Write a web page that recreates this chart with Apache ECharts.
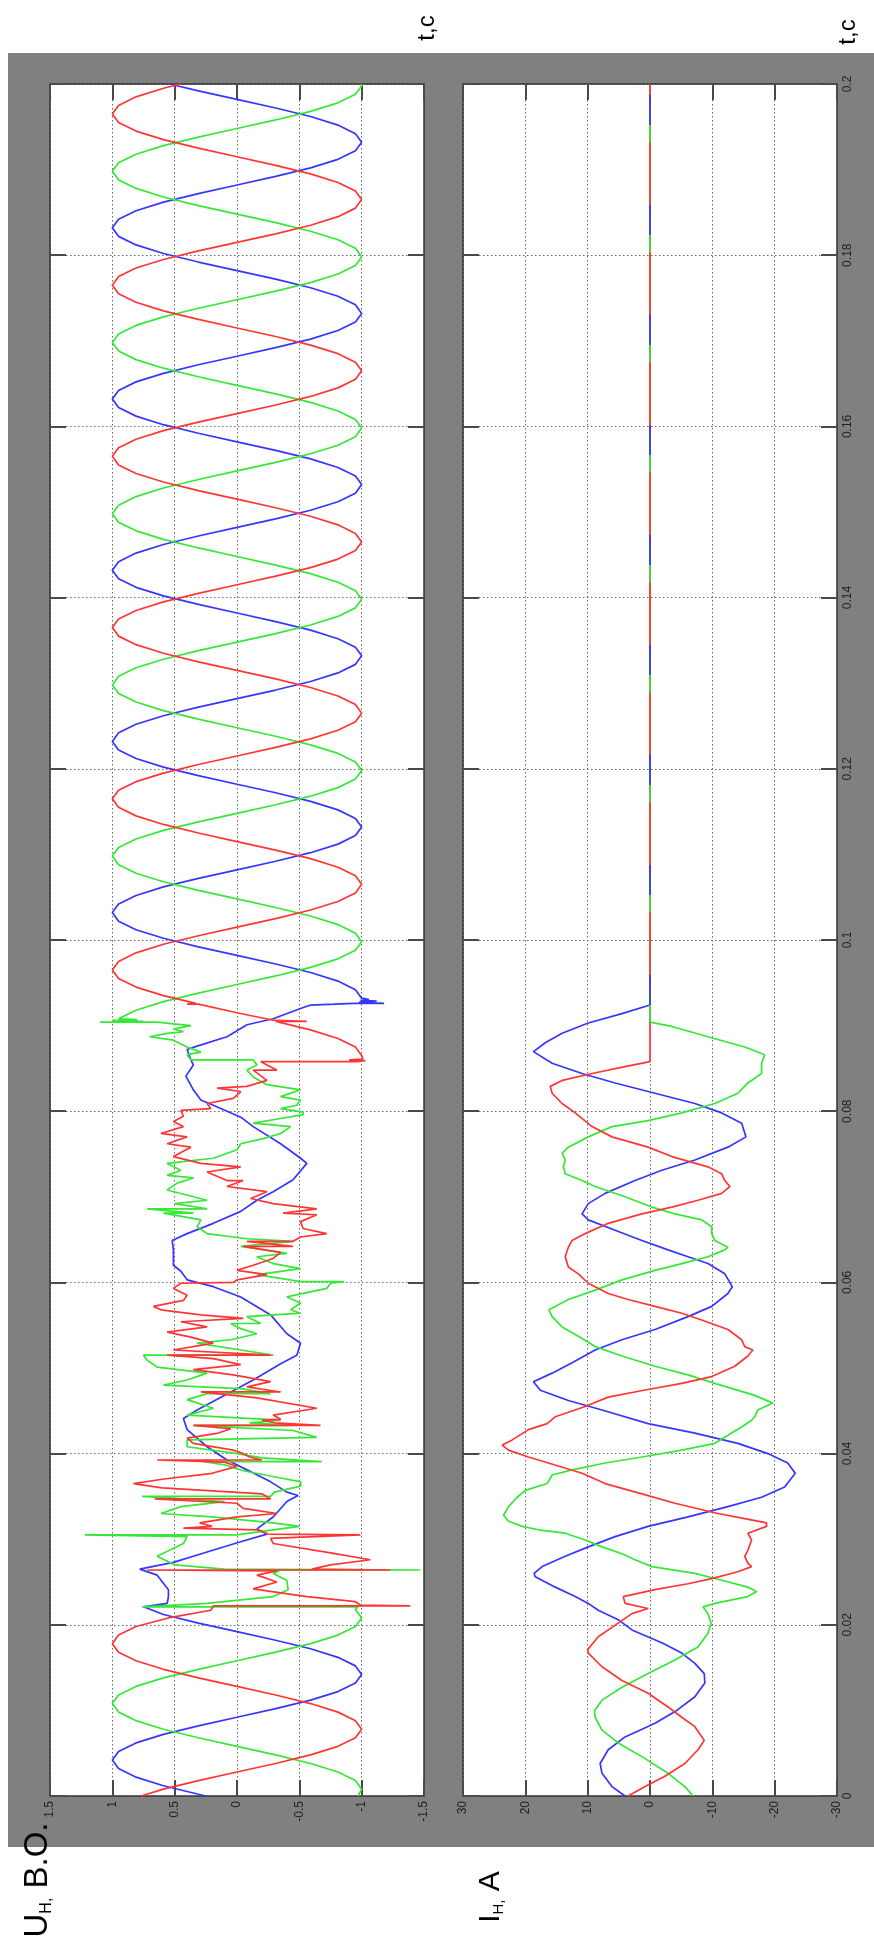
<!DOCTYPE html>
<html>
<head>
<meta charset="utf-8">
<script src="https://cdn.jsdelivr.net/npm/echarts@6/dist/echarts.min.js"></script>
<style>
html,body{margin:0;padding:0;background:#fff;}
#chart{width:874px;height:1955px;}
</style>
</head>
<body>
<div id="chart"></div>
<script>
// time in ms
let tLabels=['0','0.02','0.04','0.06','0.08','0.1','0.12','0.14','0.16','0.18','0.2']
let uLabels=['-1.5','-1','-0.5','0','0.5','1','1.5']
let iLabels=['-30','-20','-10','0','10','20','30']

// U, red phase
let uRedPre=[[0,0.77],[0.8,0.59],[1.8,0.31],[2.8,0],[3.8,-0.31],[4.8,-0.59],[5.8,-0.81],[6.8,-0.95],[7.8,-1],[8.8,-0.95],[9.8,-0.81],[10.8,-0.59],[11.8,-0.31],[12.8,0],[13.8,0.31],[14.8,0.59],[15.8,0.81],[16.8,0.95],[17.8,1],[18.8,0.95],[19.8,0.81],[20.8,0.55],[21.7,0.21]]
let uRedFault=[[22.2,0.19],[22.2,-1.39],[22.3,-0.99],[22.7,-0.95],[23.3,-0.56],[24.2,-0.13],[25.0,-0.32],[25.8,-0.16],[26.3,-0.32],[26.4,0.72],[26.4,-1.23],[26.5,-0.6],[27.0,-0.75],[27.6,-1.07],[28.4,-0.75],[29.5,-0.29],[30.1,-0.27],[30.5,-0.99],[30.6,-0.25],[31.1,-0.16],[31.3,0.43],[31.5,0.2],[31.9,0.3],[32.6,0.0],[33.0,-0.32],[33.6,-0.05],[34.2,0.0],[34.7,0.66],[34.7,-0.27],[35.3,-0.2],[36.0,0.6],[36.5,0.83],[37.0,0.6],[37.7,0.2],[38.5,0.0],[39.0,0.1],[39.25,0.64],[39.25,-0.2],[39.6,-0.1],[40.0,-0.05],[40.4,0.03],[41.2,0.35],[41.8,0.40],[42.4,0.15],[42.9,0.05],[43.3,0.35],[43.3,-0.67],[43.6,-0.3],[43.9,-0.2],[44.0,-0.35],[44.5,-0.29],[45.3,-0.64],[46.5,-0.16],[47.2,0.29],[47.2,-0.35],[47.8,-0.08],[48.4,-0.27],[49.2,0.03],[49.8,0.35],[50.4,-0.03],[51.1,0.19],[51.5,0.56],[51.5,-0.27],[52.1,0.51],[52.9,0.19],[53.6,0.37],[54.2,0.56],[54.8,0.24],[55.4,0.45],[55.8,-0.05],[56.2,0.29],[56.8,0.61],[57.2,0.67],[57.9,0.43],[58.5,0.40],[59.3,0.51],[59.9,0.45],[60.0,0.03],[60.3,0.0],[60.9,-0.24],[61.4,0.0],[62.0,-0.13],[62.8,-0.29],[63.5,-0.35],[64.2,-0.05],[64.2,-0.45],[64.8,-0.08],[64.8,-0.45],[65.3,-0.51],[65.7,-0.72],[66.3,-0.53],[67.1,-0.51],[67.9,-0.64],[68.1,-0.37],[68.6,-0.64],[69.2,-0.29],[69.8,-0.11],[70.6,-0.24],[71.2,0.08],[71.9,-0.05],[71.9,0.08],[72.9,0.24],[73.5,-0.03],[73.9,0.29],[74.7,0.51],[75.8,0.37],[76.2,0.56],[77.0,0.40],[77.4,0.61],[78.2,0.43],[78.8,0.51],[79.4,0.43],[80.1,0.45],[80.3,0.21],[80.9,0.24],[81.5,0.03],[82.3,-0.03],[82.7,0.16],[82.9,-0.08],[83.6,-0.24],[84.8,-0.13],[84.8,-0.32],[85.4,-0.24],[85.8,-0.19]]
let uRedPost=[[85.8,-0.96],[85.9,-1.03],[86.0,-0.9],[86.1,-1.01],[86.5,-1],[87.5,-0.95],[88.5,-0.81],[89.5,-0.59],[90.5,-0.31],[90.5,-0.56],[90.6,-0.3],[91.5,0],[92.5,0.31],[92.5,0.4],[92.6,0.33],[93.5,0.59],[94.5,0.81],[95.5,0.95],
[96.5,1],[97.5,0.95],[98.5,0.81],[99.5,0.59],[100.5,0.31],[101.5,0],[102.5,-0.31],[103.5,-0.59],[104.5,-0.81],[105.5,-0.95],[106.5,-1],[107.5,-0.95],[108.5,-0.81],[109.5,-0.59],[110.5,-0.31],[111.5,0],[112.5,0.31],[113.5,0.59],[114.5,0.81],[115.5,0.95],
[116.5,1],[117.5,0.95],[118.5,0.81],[119.5,0.59],[120.5,0.31],[121.5,0],[122.5,-0.31],[123.5,-0.59],[124.5,-0.81],[125.5,-0.95],[126.5,-1],[127.5,-0.95],[128.5,-0.81],[129.5,-0.59],[130.5,-0.31],[131.5,0],[132.5,0.31],[133.5,0.59],[134.5,0.81],[135.5,0.95],
[136.5,1],[137.5,0.95],[138.5,0.81],[139.5,0.59],[140.5,0.31],[141.5,0],[142.5,-0.31],[143.5,-0.59],[144.5,-0.81],[145.5,-0.95],[146.5,-1],[147.5,-0.95],[148.5,-0.81],[149.5,-0.59],[150.5,-0.31],[151.5,0],[152.5,0.31],[153.5,0.59],[154.5,0.81],[155.5,0.95],
[156.5,1],[157.5,0.95],[158.5,0.81],[159.5,0.59],[160.5,0.31],[161.5,0],[162.5,-0.31],[163.5,-0.59],[164.5,-0.81],[165.5,-0.95],[166.5,-1],[167.5,-0.95],[168.5,-0.81],[169.5,-0.59],[170.5,-0.31],[171.5,0],[172.5,0.31],[173.5,0.59],[174.5,0.81],[175.5,0.95],
[176.5,1],[177.5,0.95],[178.5,0.81],[179.5,0.59],[180.5,0.31],[181.5,0],[182.5,-0.31],[183.5,-0.59],[184.5,-0.81],[185.5,-0.95],[186.5,-1],[187.5,-0.95],[188.5,-0.81],[189.5,-0.59],[190.5,-0.31],[191.5,0],[192.5,0.31],[193.5,0.59],[194.5,0.81],[195.5,0.95],
[196.5,1],[197.5,0.95],[198.5,0.81],[199.5,0.59],[200,0.45]]

// U, blue phase
let uBluePre=[[0,0.25],[0.2,0.31],[1.2,0.59],[2.2,0.81],[3.2,0.95],[4.2,1],[5.2,0.95],[6.2,0.81],[7.2,0.59],[8.2,0.31],[9.2,0],[10.2,-0.31],[11.2,-0.59],[12.2,-0.81],[13.2,-0.95],[14.2,-1],[15.2,-0.95],[16.2,-0.81],[17.2,-0.59],[18.2,-0.31],[19.2,0],[20.2,0.31],[21.2,0.59],[22.1,0.75]]
let uBlueFault=[[22.5,0.56],[23.3,0.55],[24.1,0.55],[25.8,0.64],[26.5,0.78],[27.3,0.51],[28.5,0.24],[29.7,-0.03],[30.6,-0.24],[31.2,-0.16],[32.6,-0.29],[34.4,-0.40],[35.1,-0.49],[35.5,-0.40],[36.7,-0.27],[38.1,-0.08],[39.25,0.08],[40.8,0.24],[42.8,0.40],[44.1,0.43],[45.1,0.32],[47.2,0.05],[48.6,-0.13],[50.5,-0.35],[51.5,-0.48],[52.9,-0.51],[54.0,-0.40],[56.2,-0.27],[58.3,-0.03],[59.5,0.19],[60.3,0.40],[61.3,0.45],[62.0,0.51],[63.8,0.51],[64.9,0.52],[65.7,0.40],[66.9,0.19],[68.3,-0.03],[69.6,-0.16],[70.6,-0.29],[72.0,-0.45],[73.9,-0.56],[74.5,-0.51],[76.2,-0.35],[78.2,-0.13],[79.3,-0.03],[80.7,0.19],[81.3,0.29],[82.5,0.35],[84.1,0.41],[85.4,0.35],[86.0,0.37],[87.2,0.40],[87.6,0.32],[88.7,0.08],[90.1,-0.08],[90.8,-0.29],[92.0,-0.51],[92.4,-0.59],[92.5,-0.78],[92.6,-0.94]]
let uBluePost=[[92.6,-1.18],[92.75,-0.98],[92.85,-1.12],[92.95,-0.99],[93.05,-1.06],[93.2,-1],[94.2,-0.95],[95.2,-0.81],[96.2,-0.59],[97.2,-0.31],[98.2,0],[99.2,0.31],[100.2,0.59],[101.2,0.81],[102.2,0.95],
[103.2,1],[104.2,0.95],[105.2,0.81],[106.2,0.59],[107.2,0.31],[108.2,0],[109.2,-0.31],[110.2,-0.59],[111.2,-0.81],[112.2,-0.95],[113.2,-1],[114.2,-0.95],[115.2,-0.81],[116.2,-0.59],[117.2,-0.31],[118.2,0],[119.2,0.31],[120.2,0.59],[121.2,0.81],[122.2,0.95],
[123.2,1],[124.2,0.95],[125.2,0.81],[126.2,0.59],[127.2,0.31],[128.2,0],[129.2,-0.31],[130.2,-0.59],[131.2,-0.81],[132.2,-0.95],[133.2,-1],[134.2,-0.95],[135.2,-0.81],[136.2,-0.59],[137.2,-0.31],[138.2,0],[139.2,0.31],[140.2,0.59],[141.2,0.81],[142.2,0.95],
[143.2,1],[144.2,0.95],[145.2,0.81],[146.2,0.59],[147.2,0.31],[148.2,0],[149.2,-0.31],[150.2,-0.59],[151.2,-0.81],[152.2,-0.95],[153.2,-1],[154.2,-0.95],[155.2,-0.81],[156.2,-0.59],[157.2,-0.31],[158.2,0],[159.2,0.31],[160.2,0.59],[161.2,0.81],[162.2,0.95],
[163.2,1],[164.2,0.95],[165.2,0.81],[166.2,0.59],[167.2,0.31],[168.2,0],[169.2,-0.31],[170.2,-0.59],[171.2,-0.81],[172.2,-0.95],[173.2,-1],[174.2,-0.95],[175.2,-0.81],[176.2,-0.59],[177.2,-0.31],[178.2,0],[179.2,0.31],[180.2,0.59],[181.2,0.81],[182.2,0.95],
[183.2,1],[184.2,0.95],[185.2,0.81],[186.2,0.59],[187.2,0.31],[188.2,0],[189.2,-0.31],[190.2,-0.59],[191.2,-0.81],[192.2,-0.95],[193.2,-1],[194.2,-0.95],[195.2,-0.81],[196.2,-0.59],[197.2,-0.31],[198.2,0],[199.2,0.31],[200,0.54]]

// U, green phase
let uGreenPre=[[0,-0.97],[0.8,-1],[1.8,-0.95],[2.8,-0.81],[3.8,-0.59],[4.8,-0.31],[5.8,0],[6.8,0.31],[7.8,0.59],[8.8,0.81],[9.8,0.95],[10.8,1],[11.8,0.95],[12.8,0.81],[13.8,0.59],[14.8,0.31],[15.8,0],[16.8,-0.31],[17.8,-0.59],[18.8,-0.81],[19.8,-0.95],[20.8,-1],[21.8,-0.95],[22.1,-0.97]]
let uGreenFault=[[22.1,0.76],[22.5,0.24],[23.3,-0.29],[24.1,-0.41],[25.2,-0.40],[26.0,-0.29],[26.4,-0.35],[26.4,-1.47],[26.5,0.1],[27.0,0.5],[28.0,0.64],[29.0,0.5],[29.5,0.43],[30.3,0.40],[30.5,1.22],[30.5,0.0],[31.1,-0.29],[31.5,-0.5],[31.9,-0.29],[32.6,0.2],[33.0,0.61],[33.8,0.45],[34.4,0.1],[35.0,0.76],[35.0,-0.27],[35.5,-0.3],[36.2,-0.51],[36.7,-0.51],[37.3,-0.3],[38.0,-0.05],[38.7,0.1],[39.06,0.27],[39.06,-0.68],[39.5,-0.2],[40.0,0.0],[40.8,0.4],[41.6,0.4],[41.9,-0.64],[42.7,-0.45],[43.3,0.35],[43.3,-0.45],[43.6,-0.1],[43.9,-0.35],[44.5,0.40],[45.3,0.19],[46.3,0.40],[47.0,0.24],[47.0,-0.27],[47.6,-0.03],[48.0,0.59],[48.6,0.40],[49.4,0.24],[50.1,0.64],[50.9,0.72],[51.5,0.75],[51.5,-0.29],[52.1,-0.03],[52.9,0.32],[53.3,0.05],[54.0,-0.16],[54.6,-0.03],[55.2,0.05],[55.2,-0.19],[56.0,-0.08],[56.4,-0.51],[56.8,-0.43],[57.6,-0.51],[58.3,-0.40],[59.3,-0.72],[59.9,-0.75],[60.1,-0.86],[60.1,-0.51],[60.9,-0.16],[61.6,-0.51],[62.2,-0.29],[63.0,-0.16],[63.4,-0.40],[64.2,-0.03],[64.8,-0.45],[65.1,-0.08],[65.7,0.24],[66.5,0.32],[67.3,0.29],[68.1,0.59],[68.1,0.35],[68.6,0.72],[68.6,0.24],[69.2,0.5],[69.6,0.24],[70.8,0.56],[71.6,0.48],[72.2,0.35],[72.5,0.56],[73.1,0.45],[73.9,0.56],[74.5,0.19],[75.5,0.0],[76.2,-0.03],[76.8,-0.21],[77.4,-0.35],[78.2,-0.43],[78.6,-0.13],[79.0,-0.29],[79.6,-0.53],[79.9,-0.53],[80.3,-0.35],[80.7,-0.48],[81.3,-0.51],[81.7,-0.35],[82.5,-0.51],[83.1,-0.24],[84.0,-0.13],[84.8,-0.08],[85.4,-0.16],[86.0,-0.13],[86.0,0.37],[86.6,0.40],[86.9,0.29],[87.5,0.40],[88.3,0.51],[88.7,0.70],[89.1,0.56],[89.3,0.43],[89.6,0.51],[90.0,0.37],[90.2,0.51],[90.4,0.64]]
let uGreenPost=[[90.4,1.1],[90.5,0.75],[90.6,1.0],[90.7,0.8],[90.8,0.95],[91.8,0.81],[92.8,0.59],[93.8,0.31],[94.8,0],[95.8,-0.31],[96.8,-0.59],[97.8,-0.81],[98.8,-0.95],[99.8,-1],[100.8,-0.95],[101.8,-0.81],[102.8,-0.59],[103.8,-0.31],[104.8,0],[105.8,0.31],[106.8,0.59],[107.8,0.81],[108.8,0.95],
[109.8,1],[110.8,0.95],[111.8,0.81],[112.8,0.59],[113.8,0.31],[114.8,0],[115.8,-0.31],[116.8,-0.59],[117.8,-0.81],[118.8,-0.95],[119.8,-1],[120.8,-0.95],[121.8,-0.81],[122.8,-0.59],[123.8,-0.31],[124.8,0],[125.8,0.31],[126.8,0.59],[127.8,0.81],[128.8,0.95],
[129.8,1],[130.8,0.95],[131.8,0.81],[132.8,0.59],[133.8,0.31],[134.8,0],[135.8,-0.31],[136.8,-0.59],[137.8,-0.81],[138.8,-0.95],[139.8,-1],[140.8,-0.95],[141.8,-0.81],[142.8,-0.59],[143.8,-0.31],[144.8,0],[145.8,0.31],[146.8,0.59],[147.8,0.81],[148.8,0.95],
[149.8,1],[150.8,0.95],[151.8,0.81],[152.8,0.59],[153.8,0.31],[154.8,0],[155.8,-0.31],[156.8,-0.59],[157.8,-0.81],[158.8,-0.95],[159.8,-1],[160.8,-0.95],[161.8,-0.81],[162.8,-0.59],[163.8,-0.31],[164.8,0],[165.8,0.31],[166.8,0.59],[167.8,0.81],[168.8,0.95],
[169.8,1],[170.8,0.95],[171.8,0.81],[172.8,0.59],[173.8,0.31],[174.8,0],[175.8,-0.31],[176.8,-0.59],[177.8,-0.81],[178.8,-0.95],[179.8,-1],[180.8,-0.95],[181.8,-0.81],[182.8,-0.59],[183.8,-0.31],[184.8,0],[185.8,0.31],[186.8,0.59],[187.8,0.81],[188.8,0.95],
[189.8,1],[190.8,0.95],[191.8,0.81],[192.8,0.59],[193.8,0.31],[194.8,0],[195.8,-0.31],[196.8,-0.59],[197.8,-0.81],[198.8,-0.95],[199.8,-1],[200,-1]]

// I, currents (A)
let iRed=[[0,3.5],[1.1,0.8],[2.3,-2.4],[3.8,-5.6],[5.4,-7.7],[6.5,-8.7],[8.1,-7.2],[9.2,-5.1],[10.4,-2.9],[12.0,0.3],[13.5,4.5],[15.1,7.7],[16.7,9.9],[17.1,10.0],[18.6,8.3],[20.2,5.1],[21.3,2.9],[21.9,0.3],[22.5,4.0],[23.3,4.3],[24.1,-0.8],[24.8,-6.1],[25.4,-9.9],[26.2,-14.1],[26.8,-16.3],[27.2,-15.7],[28.0,-15.2],[28.7,-15.7],[29.9,-16.3],[30.7,-15.7],[31.5,-18.7],[31.9,-18.7],[32.4,-15.2],[33.0,-10.9],[34.2,-4.0],[35.3,1.3],[36.5,7.2],[37.7,10.9],[38.9,16.3],[39.6,19.5],[40.4,22.7],[41.0,23.7],[41.6,22.1],[42.8,19.5],[43.5,16.5],[44.3,15.2],[45.5,10.4],[46.6,6.7],[47.4,1.0],[48.2,-5.1],[49.0,-9.9],[50.2,-13.6],[51.4,-15.7],[52.1,-16.5],[52.5,-15.2],[53.3,-14.7],[54.5,-12.5],[55.6,-8.3],[56.4,-5.1],[57.2,-0.8],[58.0,3.5],[58.7,6.7],[59.9,9.9],[61.0,11.5],[61.8,13.1],[63.0,13.6],[64.1,13.1],[64.9,12.5],[65.7,10.4],[66.9,6.7],[68.0,1.3],[68.8,-3.5],[69.6,-7.7],[70.4,-11.5],[71.2,-12.8],[71.9,-12.0],[72.7,-11.5],[73.5,-9.3],[74.7,-3.5],[75.8,0.3],[77.0,6.1],[78.2,9.3],[79.8,12.0],[80.9,14.1],[82.1,15.7],[82.9,16.0],[83.6,14.1],[84.4,9.3],[85.2,4.0],[85.8,0],[200,0]]
let iGreen=[[0,-6.9],[1.1,-5.6],[2.65,-2.9],[4.6,1.3],[6.2,5.1],[7.7,7.7],[9.2,8.8],[10.0,8.9],[11.2,7.7],[12.7,4.5],[14.3,0.3],[15.9,-4.0],[17.4,-7.7],[19.0,-9.3],[20.2,-9.8],[21.3,-9.3],[22.1,-8.5],[22.5,-10.4],[23.3,-15.7],[23.9,-17.1],[24.4,-15.7],[25.2,-11.5],[26.0,-7.2],[26.8,-0.3],[27.6,2.4],[28.3,4.5],[29.1,7.7],[29.9,10.4],[30.7,13.6],[31.1,17.9],[31.5,20.5],[32.1,22.7],[32.8,23.5],[33.8,22.7],[34.9,21.3],[35.7,20.0],[36.5,16.5],[37.5,15.7],[38.1,12.5],[38.9,7.2],[39.6,1.3],[40.4,-5.1],[41.2,-10.4],[42.4,-13.1],[43.1,-14.7],[43.9,-16.3],[44.3,-16.8],[45.1,-17.3],[45.9,-19.7],[46.8,-16.8],[48.2,-10.4],[49.2,-6.1],[50.2,-0.8],[51.4,4.5],[52.5,8.8],[53.7,11.5],[54.8,14.1],[56.0,15.7],[56.8,16.2],[58.0,13.1],[59.1,8.8],[60.3,4.5],[61.4,-0.8],[62.2,-5.1],[63.0,-9.3],[63.8,-12.0],[64.1,-12.5],[64.9,-10.4],[65.7,-9.9],[66.5,-9.9],[67.3,-8.3],[68.0,-4.0],[68.8,-0.3],[70.0,4.0],[71.2,8.8],[71.9,10.9],[72.7,13.6],[73.5,13.9],[74.3,13.6],[75.1,14.1],[75.8,13.1],[77.0,9.9],[78.2,6.1],[78.9,0.3],[79.8,-5.1],[80.9,-10.4],[82.1,-14.1],[83.3,-15.7],[84.4,-17.9],[85.6,-17.9],[86.6,-18.4],[87.5,-15.2],[88.7,-9.3],[89.9,-3.5],[90.4,0],[200,0]]
let iBlue=[[0,4.0],[1.1,6.1],[2.65,7.7],[3.8,8.0],[5.4,6.7],[6.9,4.0],[8.5,-0.8],[10.0,-4.3],[11.6,-7.2],[13.2,-8.8],[14.3,-8.7],[15.5,-7.2],[16.7,-5.1],[17.9,-1.9],[19.4,2.9],[20.6,5.1],[21.7,8.3],[22.5,9.9],[23.3,12.0],[24.4,15.2],[25.6,18.4],[26.0,18.6],[26.8,17.3],[28.0,13.6],[29.1,9.9],[30.3,5.6],[31.5,0.3],[32.6,-6.1],[33.8,-12.5],[34.9,-17.9],[36.1,-21.6],[37.7,-23.3],[38.9,-22.1],[40.0,-18.9],[41.2,-14.1],[42.4,-7.2],[43.5,0.3],[45.1,7.7],[46.2,13.1],[47.4,17.6],[48.4,18.7],[49.4,15.7],[50.6,12.5],[52.1,8.8],[53.3,4.5],[54.5,-0.8],[56.0,-6.1],[57.2,-9.9],[58.7,-12.5],[59.5,-13.2],[61.0,-12.0],[62.2,-9.3],[63.0,-6.1],[63.8,-2.9],[64.9,1.3],[66.1,5.6],[67.3,9.9],[68.0,10.9],[69.2,9.9],[70.4,7.2],[71.9,2.4],[73.1,-1.9],[74.3,-7.2],[75.8,-12.5],[77.0,-15.4],[78.6,-14.7],[79.8,-11.5],[80.9,-7.2],[82.1,-0.8],[83.3,5.6],[84.4,10.9],[85.6,15.7],[86.96,18.7],[88.0,16.8],[89.1,14.1],[90.3,9.9],[91.4,4.5],[92.4,0],[200,0]]

let fontFam='"Liberation Sans", Arial, Helvetica, sans-serif'
let red='#ff3535', green='#35e835', blue='#3535ff'

// line in [value, time] order for the rotated layout
function wave(data, color, ax, dash){
    return {
        type:'line',
        data:data.map(p=>[p[1],p[0]]),
        xAxisIndex:ax, yAxisIndex:ax,
        showSymbol:false, symbol:'none',
        lineStyle:{color:color, width:1.7, type:dash||'solid'},
        itemStyle:{color:color},
        silent:true, clip:true
    }
}

let gridLine={show:true, lineStyle:{color:'#6a6a6a', width:1, type:[1.5,2.5]}}
let tick={show:true, inside:true, length:16, lineStyle:{color:'#4a4a4a', width:2}}
let frame={show:true, onZero:false, lineStyle:{color:'#333', width:1.5}}
let lblStyle={color:'#222', fontSize:12, fontFamily:fontFam}

function valAxis(grid, pos, min, max, step, labels){
    return {
        type:'value', gridIndex:grid, position:pos, min:min, max:max, interval:step, inverse:true,
        axisLine:frame, axisTick:tick,
        splitLine: labels ? gridLine : {show:false},
        axisLabel: labels ? Object.assign({show:true, rotate:90, margin:5,
            formatter:v=>labels[Math.round((v-min)/step)]}, lblStyle) : {show:false}
    }
}
function timeAxis(grid, pos, split, labels){
    return {
        type:'value', gridIndex:grid, position:pos, min:0, max:200, interval:20,
        axisLine:frame, axisTick:tick,
        splitLine: split ? gridLine : {show:false},
        axisLabel: labels ? Object.assign({show:true, rotate:90, margin:5,
            formatter:v=>tLabels[Math.round(v/20)]}, lblStyle) : {show:false}
    }
}

let chart=echarts.init(document.getElementById('chart'), null, {renderer:'canvas'})
chart.setOption({
    animation:false,
    backgroundColor:'#ffffff',
    grid:[
        {left:50, top:84, width:374, height:1712, show:true, backgroundColor:'#ffffff', borderWidth:0, outerBoundsMode:'none'},
        {left:463, top:84, width:374, height:1712, show:true, backgroundColor:'#ffffff', borderWidth:0, outerBoundsMode:'none'}
    ],
    xAxis:[
        valAxis(0,'bottom',-1.5,1.5,0.5,uLabels),
        valAxis(1,'bottom',-30,30,10,iLabels),
        valAxis(0,'top',-1.5,1.5,0.5,null),
        valAxis(1,'top',-30,30,10,null)
    ],
    yAxis:[
        timeAxis(0,'left',true,false),
        timeAxis(1,'left',true,false),
        timeAxis(0,'right',false,false),
        timeAxis(1,'right',false,true)
    ],
    graphic:[
        {type:'rect', z:-1, shape:{x:8, y:53, width:866, height:1794}, style:{fill:'#808080'}},
        {type:'text', x:427, y:28, rotation:Math.PI/2,
            style:{legacy:false, text:'t,c', font:'24px '+fontFam, fill:'#000', align:'center', verticalAlign:'middle'}},
        {type:'text', x:848, y:32, rotation:Math.PI/2,
            style:{legacy:false, text:'t,c', font:'24px '+fontFam, fill:'#000', align:'center', verticalAlign:'middle'}},
        {type:'text', x:38, y:1880, rotation:Math.PI/2,
            style:{legacy:false, text:'{a|U}{b|H,}{a| B.O.}', align:'center', verticalAlign:'middle',
                rich:{a:{fontSize:33, lineHeight:33, fontFamily:fontFam, fill:'#000'},
                      b:{fontSize:16, lineHeight:16, fontFamily:fontFam, fill:'#000', verticalAlign:'bottom'}}}},
        {type:'text', x:491, y:1897, rotation:Math.PI/2,
            style:{legacy:false, text:'{a|I}{b|H,}{a| A}', align:'center', verticalAlign:'middle',
                rich:{a:{fontSize:30, lineHeight:30, fontFamily:fontFam, fill:'#000'},
                      b:{fontSize:15, lineHeight:15, fontFamily:fontFam, fill:'#000', verticalAlign:'bottom'}}}}
    ],
    series:[
        wave(uBluePre.concat(uBlueFault, uBluePost), blue, 0),
        wave(uGreenPre.concat(uGreenFault, uGreenPost), green, 0),
        wave(uRedPre.concat(uRedFault, uRedPost), red, 0),
        wave(iBlue, blue, 1),
        wave(iGreen, green, 1),
        wave(iRed, red, 1),
        // overlapping zero tails after the breaker opens
        wave(iGreen.slice(-2), green, 1, [40,70]),
        wave(iBlue.slice(-2), blue, 1, [30,80])
    ]
})
</script>
</body>
</html>
